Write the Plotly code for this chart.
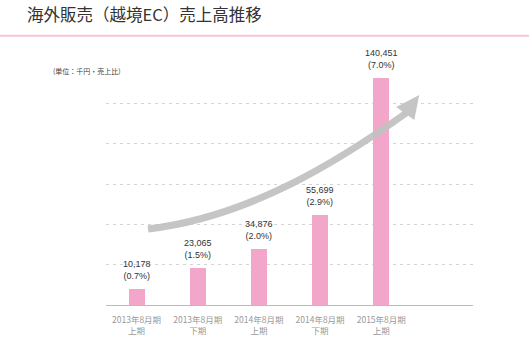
import plotly.graph_objects as go

# Semi-annual cross-border EC sales (thousand yen) and share of total sales (%)
periods = ["2013年8月期<br>上期", "2013年8月期<br>下期", "2014年8月期<br>上期",
           "2014年8月期<br>下期", "2015年8月期<br>上期"]
sales = [10178, 23065, 34876, 55699, 140451]
share = [0.7, 1.5, 2.0, 2.9, 7.0]

W, H = 529, 341
L, R, T, B = 106, 56.3, 61, 36
PW, PH = W - L - R, H - T - B
YMAX = PH * 620  # ~620 thousand yen per pixel


def px(x):
    return (x - L) / PW


def py(y):
    return (H - B - y) / PH


labels = [f"{v:,}<br>({s:.1f}%)" for v, s in zip(sales, share)]
xs = list(range(len(sales)))

fig = go.Figure()
fig.add_trace(go.Bar(
    x=xs, y=sales, width=0.26,
    marker=dict(color="#f2a7ca", line=dict(width=0)),
    hoverinfo="skip",
))

# value / share labels above each bar
annotations = [
    dict(x=x, y=v, xref="x", yref="y", text=t, showarrow=False,
         xanchor="center", yanchor="bottom", yshift=6,
         font=dict(size=9, color="#333333",
                   family="Liberation Sans, Noto Sans CJK JP"))
    for x, v, t in zip(xs, sales, labels)
]
annotations.append(
    dict(text="(単位：千円・売上比)", xref="paper", yref="paper",
         x=px(51), y=py(71), xanchor="left", yanchor="middle", showarrow=False,
         font=dict(size=7, color="#444444", family="Noto Sans CJK JP")))

# growth arrow (decorative, paper coordinates)
p0, p1, p2, p3 = (148, 229), (250, 217), (340, 160), (406, 113)
arrow_path = (f"M {px(p0[0])},{py(p0[1])} C {px(p1[0])},{py(p1[1])} "
              f"{px(p2[0])},{py(p2[1])} {px(p3[0])},{py(p3[1])}")
head = [(419, 95), (396, 107), (414, 120)]
head_path = "M " + " L ".join(f"{px(a)},{py(b)}" for a, b in head) + " Z"

shapes = [
    dict(type="path", xref="paper", yref="paper", path=arrow_path,
         line=dict(color="#c2c2c2", width=7), opacity=0.95, layer="above"),
    dict(type="path", xref="paper", yref="paper", path=head_path,
         fillcolor="#c2c2c2", line=dict(width=0), opacity=0.95, layer="above"),
    # pink rule under the heading
    dict(type="line", xref="paper", yref="paper",
         x0=px(0), x1=px(W), y0=py(35.7), y1=py(35.7),
         line=dict(color="#f6c3da", width=2)),
]

fig.update_layout(
    width=W, height=H,
    margin=dict(l=L, r=R, t=T, b=B, pad=0),
    paper_bgcolor="white", plot_bgcolor="white",
    showlegend=False, bargap=0,
    shapes=shapes,
    annotations=annotations,
    title=dict(text="海外販売（越境EC）売上高推移", x=27 / W, xanchor="left",
               y=1 - 15 / H, yanchor="middle", xref="container", yref="container",
               font=dict(size=16.5, color="#333333", family="Noto Sans CJK JP")),
    xaxis=dict(range=[-0.5, 5.5], tickvals=xs, ticktext=periods,
               showgrid=False, zeroline=False, showline=True,
               linecolor="#bbbbbb", linewidth=1, ticks="",
               ticklabelstandoff=7, automargin=False,
               tickfont=dict(size=8.5, color="#999999", family="Noto Sans CJK JP"),
               fixedrange=True),
    yaxis=dict(range=[0, YMAX], tickvals=[25000, 50000, 75000, 100000, 125000],
               showticklabels=False, showgrid=True, gridcolor="#d4d4d4",
               griddash="3px,4px", gridwidth=1, zeroline=False, showline=False,
               automargin=False, fixedrange=True),
)

fig.write_html("out.html")
